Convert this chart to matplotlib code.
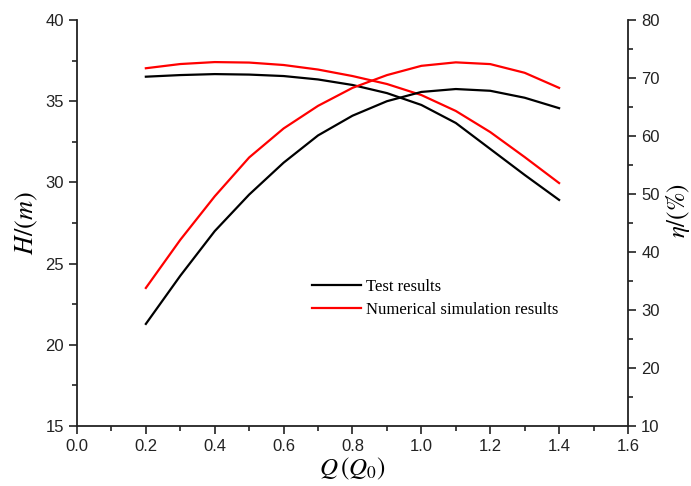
import matplotlib
matplotlib.use("Agg")
import matplotlib.pyplot as plt
from matplotlib.ticker import MultipleLocator

plt.rcParams['font.family'] = ['Liberation Sans', 'DejaVu Sans']
plt.rcParams['mathtext.fontset'] = 'stix'

# Flow rate Q/Q0
q = [0.2, 0.3, 0.4, 0.5, 0.6, 0.7, 0.8, 0.9, 1.0, 1.1, 1.2, 1.3, 1.4]

# Head H (m)
head_test = [36.51, 36.61, 36.67, 36.64, 36.55, 36.34, 36.00, 35.50, 34.77, 33.66, 32.06, 30.46, 28.92]
head_sim = [37.03, 37.29, 37.41, 37.38, 37.23, 36.95, 36.55, 36.06, 35.38, 34.40, 33.10, 31.56, 29.96]

# Efficiency eta (%)
eff_test = [27.6, 35.9, 43.6, 49.9, 55.4, 60.1, 63.5, 66.0, 67.6, 68.1, 67.8, 66.6, 64.8]
eff_sim = [33.8, 42.1, 49.6, 56.3, 61.3, 65.2, 68.3, 70.5, 72.1, 72.7, 72.4, 70.9, 68.3]

labels = ["Test results", "Numerical simulation results"]

fig = plt.figure(figsize=(6.91, 4.86), dpi=100)
ax = fig.add_axes([0.1114, 0.1235, 0.7974, 0.8353])
ax2 = ax.twinx()

lw = 1.6
l1, = ax.plot(q, head_test, color='black', lw=lw, label=labels[0])
l2, = ax.plot(q, head_sim, color='#ff0000', lw=lw, label=labels[1])
ax2.plot(q, eff_test, color='black', lw=lw)
ax2.plot(q, eff_sim, color='#ff0000', lw=lw)

ax.set_xlim(0.0, 1.6)
ax.set_ylim(15, 40)
ax2.set_ylim(10, 80)
ax.xaxis.set_major_locator(MultipleLocator(0.2))
ax.xaxis.set_minor_locator(MultipleLocator(0.1))
ax.yaxis.set_major_locator(MultipleLocator(5))
ax.yaxis.set_minor_locator(MultipleLocator(2.5))
ax2.yaxis.set_major_locator(MultipleLocator(10))
ax2.yaxis.set_minor_locator(MultipleLocator(5))
ax.xaxis.set_major_formatter(plt.FuncFormatter(lambda v, p: f"{v:.1f}"))

for a in (ax, ax2):
    a.spines['top'].set_visible(False)
    for s in a.spines.values():
        s.set_linewidth(1.3)
        s.set_color('#222222')
    a.tick_params(which='major', direction='out', length=6, width=1.2, labelsize=12, colors='#222222')
    a.tick_params(which='minor', direction='out', length=3.5, width=1.2, colors='#222222')
ax.spines['right'].set_visible(False)
ax2.spines['left'].set_visible(False)
ax2.spines['bottom'].set_visible(False)

ax.set_xlabel(r'$Q\,(\boldsymbol{Q_0})$', fontsize=18, labelpad=1)
ax.set_ylabel(r'$H/(m)$', fontsize=19, labelpad=4)
ax2.set_ylabel(r'$\eta/(\%)$', fontsize=18, rotation=90, ha='center', va='center')
ax2.yaxis.set_label_coords(1.09, 0.53)

ax.legend(handles=[l1, l2], loc='upper left', bbox_to_anchor=(0.40, 0.40), frameon=False,
          prop={'family': 'Liberation Serif', 'size': 12}, handlelength=2.9,
          handletextpad=0.3, labelspacing=0.45)

fig.savefig("out.png", dpi=100)
